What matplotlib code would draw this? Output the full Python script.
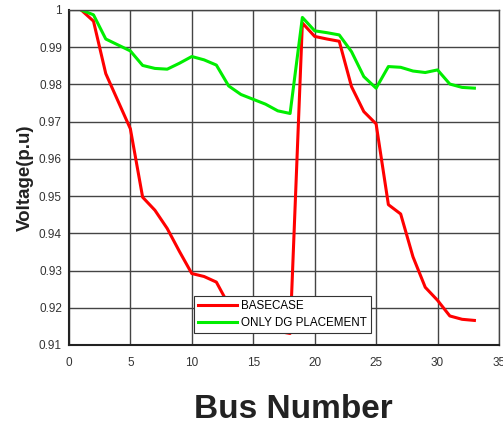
import numpy as np
import matplotlib.pyplot as plt
from matplotlib import font_manager
from matplotlib.ticker import FuncFormatter

plt.rcParams['font.family'] = ['Liberation Sans', 'DejaVu Sans']

bus = np.arange(1, 34)

# base case bus voltages (p.u)
basecase = [1.0000, 0.9970, 0.9829, 0.9755, 0.9681, 0.9497, 0.9462, 0.9413,
            0.9351, 0.9292, 0.9284, 0.9269, 0.9208, 0.9185, 0.9171, 0.9157,
            0.9137, 0.9131, 0.9965, 0.9929, 0.9922, 0.9916, 0.9794, 0.9727,
            0.9694, 0.9477, 0.9452, 0.9337, 0.9255, 0.9220, 0.9178, 0.9169,
            0.9166]

# voltages after DG placement
dg_only = [1.0000, 0.9987, 0.9922, 0.9906, 0.9890, 0.9851, 0.9843, 0.9841,
           0.9857, 0.9875, 0.9866, 0.9852, 0.9796, 0.9773, 0.9760, 0.9747,
           0.9729, 0.9722, 0.9980, 0.9944, 0.9939, 0.9933, 0.9888, 0.9821,
           0.9790, 0.9848, 0.9846, 0.9836, 0.9832, 0.9839, 0.9801, 0.9792,
           0.9790]

fig = plt.figure(figsize=(5.03, 4.32), dpi=100)
ax = fig.add_axes([0.137, 0.2014, 0.855, 0.7755])

ax.plot(bus, basecase, color='#ff0000', lw=2.2, label='BASECASE')
ax.plot(bus, dg_only, color='#00ee00', lw=2.2, label='ONLY DG PLACEMENT')

ax.set_xlim(0, 35)
ax.set_ylim(0.91, 1.0)
ax.set_xticks(np.arange(0, 36, 5))
ax.set_yticks(np.arange(0.91, 1.001, 0.01))
ax.yaxis.set_major_formatter(FuncFormatter(lambda v, p: '%g' % round(v, 2)))
ax.tick_params(length=0, labelsize=8.5, labelcolor='#333333')
ax.tick_params(axis='x', pad=9)
ax.tick_params(axis='y', pad=5)

ax.grid(True, color='#444444', lw=1.0)
for s in ax.spines.values():
    s.set_color('#444444')
    s.set_linewidth(1.0)
ax.spines['left'].set_color('#222222')
ax.spines['bottom'].set_color('#222222')
ax.spines['left'].set_linewidth(1.5)
ax.spines['bottom'].set_linewidth(1.5)

ax.set_ylabel('Voltage(p.u)', fontsize=13.5, fontweight='bold', color='#222222', labelpad=4)

# narrow bold face for the x title if one is installed
names = {f.name for f in font_manager.fontManager.ttflist}
if 'Liberation Sans Narrow' in names:
    xl_font, xl_size = 'Liberation Sans Narrow', 29
else:
    xl_font, xl_size = 'Liberation Sans', 24
fig.text(0.5835, 0.051, 'Bus Number', fontsize=xl_size, family=[xl_font, 'DejaVu Sans'],
         fontweight='bold', color='#222222', ha='center', va='center')

leg = ax.legend(loc='lower left', bbox_to_anchor=(0.291, 0.036), borderaxespad=0,
                fontsize=8.4, handlelength=3.3, frameon=True, fancybox=False,
                framealpha=1, edgecolor='#333333', borderpad=0.35,
                labelspacing=0.45, handletextpad=0.4)
leg.get_frame().set_linewidth(0.8)

fig.savefig('out.png', dpi=100)
